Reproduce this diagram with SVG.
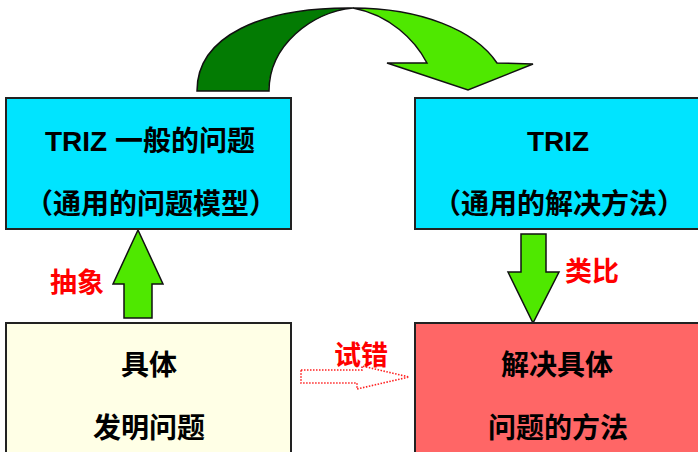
<svg xmlns="http://www.w3.org/2000/svg" width="698" height="452" viewBox="0 0 698 452">
<style>
.box{stroke:#222;stroke-width:2}
.t{font-family:"Liberation Sans","Noto Sans CJK SC",sans-serif;font-weight:bold;font-size:28px;fill:#000;text-anchor:middle}
.lbl{font-family:"Noto Sans CJK SC",sans-serif;font-weight:bold;font-size:27px;fill:#ff0000;text-anchor:middle}
.arr{fill:#4fe800;stroke:#111;stroke-width:1.5;stroke-linejoin:miter}
</style>
<rect width="698" height="452" fill="#fff"/>
<g id="connectors">
  <g id="curved-arrow">
    <path d="M197,91 C197,36 262,7 353,8 C312,12 269,45 269,91 Z" fill="#037b03" stroke="#111" stroke-width="1.5"/>
    <path d="M353,8 C420,8 475,30 497,63 L533,64 L468,90 L387,63 L427,63 C415,40 390,15 353,8 Z" class="arr"/>
  </g>
  <path id="abstract-arrow" class="arr" d="M138,230 L163,284 L152,284 L152,318 L124,318 L124,284 L113,284 Z"/>
  <path id="analogy-arrow" class="arr" d="M521,234 L546,234 L546,272 L559,272 L533,323 L508,272 L521,272 Z"/>
  <path id="trial-arrow" d="M301,370 L362,370 L362,366 L409,377 L357,389 L357,383 L301,383 Z" fill="none" stroke="#ff2020" stroke-width="1.6" stroke-dasharray="1.5 1.5"/>
  <text class="lbl" x="77" y="292">抽象</text>
  <text class="lbl" x="592" y="281">类比</text>
  <text class="lbl" x="361" y="365">试错</text>
</g>
<g id="general-problem">
  <rect class="box" x="6" y="98" width="285" height="131" fill="#00e4ff"/>
  <text class="t" x="150" y="151">TRIZ 一般的问题</text>
  <text class="t" x="151" y="214">（通用的问题模型）</text>
</g>
<g id="general-solution">
  <rect class="box" x="415" y="98" width="290" height="131" fill="#00e4ff"/>
  <text class="t" x="558" y="151">TRIZ</text>
  <text class="t" x="559" y="214">（通用的解决方法）</text>
</g>
<g id="specific-problem">
  <rect class="box" x="6" y="323" width="285" height="140" fill="#ffffe6"/>
  <text class="t" x="149" y="375">具体</text>
  <text class="t" x="149" y="438">发明问题</text>
</g>
<g id="specific-solution">
  <rect class="box" x="415" y="323" width="290" height="140" fill="#ff6666"/>
  <text class="t" x="557" y="375">解决具体</text>
  <text class="t" x="558" y="438">问题的方法</text>
</g>
</svg>
